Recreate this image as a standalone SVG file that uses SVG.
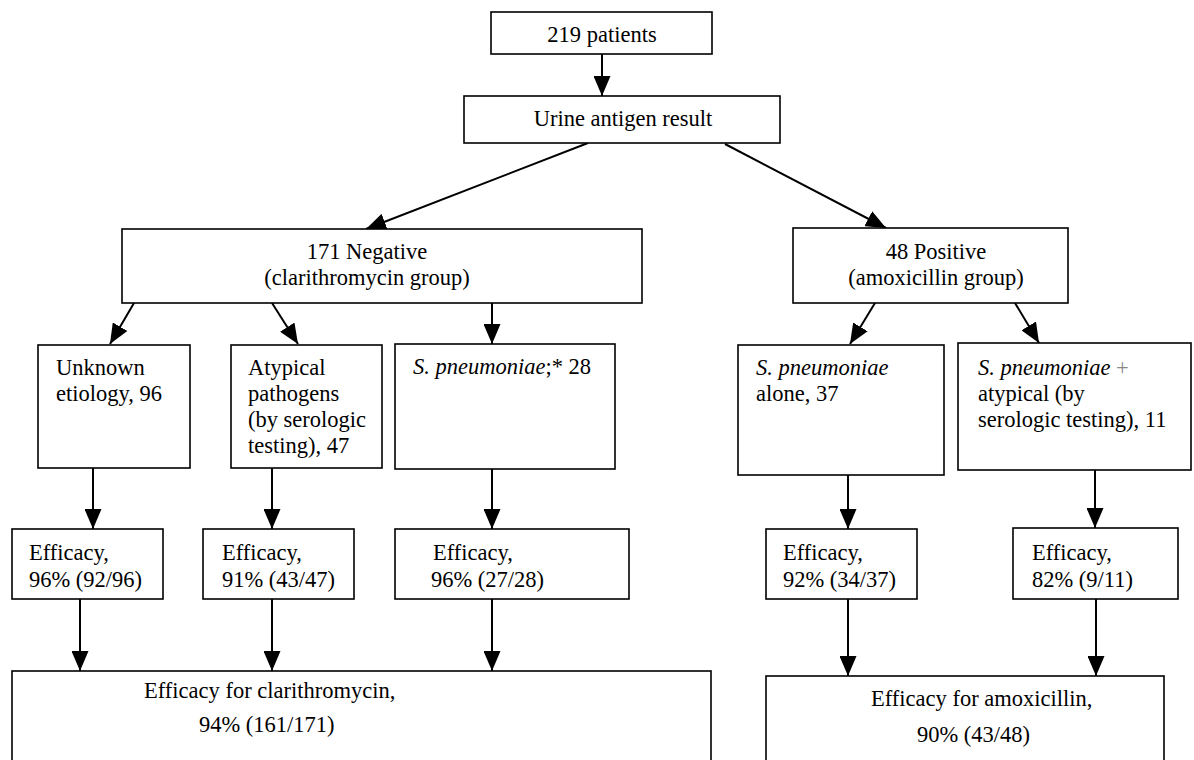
<svg xmlns="http://www.w3.org/2000/svg" width="1194" height="760" viewBox="0 0 1194 760">
<style>
.box{fill:#fff;stroke:#000;stroke-width:1.6}
.t{font-family:"Liberation Serif","Times New Roman",serif;font-size:22.5px;fill:#000}
.c{text-anchor:middle}
.i{font-style:italic}
.ln{stroke:#000;stroke-width:2;fill:none;marker-end:url(#ah)}
</style>
<defs>
<marker id="ah" viewBox="0 0 20 17" refX="20" refY="8.5" markerWidth="20" markerHeight="17" markerUnits="userSpaceOnUse" orient="auto">
<path d="M0,0 L20,8.5 L0,17 z" fill="#000"/>
</marker>
</defs>
<rect width="1194" height="760" fill="#fff"/>
<g id="connectors">
<line class="ln" x1="602" y1="54" x2="602" y2="96"/>
<line class="ln" x1="588" y1="143" x2="366" y2="229"/>
<line class="ln" x1="725" y1="144" x2="886" y2="228"/>
<line class="ln" x1="134" y1="303" x2="110" y2="344"/>
<line class="ln" x1="272" y1="303" x2="298" y2="344"/>
<line class="ln" x1="492" y1="303" x2="492" y2="344"/>
<line class="ln" x1="875" y1="303" x2="850" y2="344"/>
<line class="ln" x1="1015" y1="303" x2="1039" y2="343"/>
<line class="ln" x1="93" y1="468" x2="93" y2="529"/>
<line class="ln" x1="272" y1="468" x2="272" y2="529"/>
<line class="ln" x1="492" y1="469" x2="492" y2="529"/>
<line class="ln" x1="848" y1="475" x2="848" y2="529"/>
<line class="ln" x1="1095" y1="470" x2="1095" y2="528"/>
<line class="ln" x1="80" y1="599" x2="80" y2="671"/>
<line class="ln" x1="272" y1="599" x2="272" y2="671"/>
<line class="ln" x1="492" y1="599" x2="492" y2="671"/>
<line class="ln" x1="848" y1="599" x2="848" y2="676"/>
<line class="ln" x1="1096" y1="599" x2="1096" y2="676"/>
</g>
<g id="n219">
<rect class="box" x="491" y="12" width="221" height="42"/>
<text class="t c" x="602" y="42">219 patients</text>
</g>
<g id="urine">
<rect class="box" x="464" y="96" width="316" height="47"/>
<text class="t c" x="623" y="126">Urine antigen result</text>
</g>
<g id="negative">
<rect class="box" x="122" y="229" width="520" height="74"/>
<text class="t c" x="367" y="259">171 Negative</text>
<text class="t c" x="367" y="285">(clarithromycin group)</text>
</g>
<g id="positive">
<rect class="box" x="793" y="228" width="275" height="75"/>
<text class="t c" x="936" y="259">48 Positive</text>
<text class="t c" x="936" y="285">(amoxicillin group)</text>
</g>
<g id="unknown">
<rect class="box" x="38" y="345" width="152" height="123"/>
<text class="t" x="56" y="375">Unknown</text>
<text class="t" x="56" y="401">etiology, 96</text>
</g>
<g id="atypical">
<rect class="box" x="231" y="345" width="151" height="123"/>
<text class="t" x="248" y="375">Atypical</text>
<text class="t" x="248" y="401">pathogens</text>
<text class="t" x="248" y="427">(by serologic</text>
<text class="t" x="248" y="453">testing), 47</text>
</g>
<g id="spn28">
<rect class="box" x="395" y="344" width="220" height="125"/>
<text class="t" x="413" y="374"><tspan class="i">S. pneumoniae</tspan>;* 28</text>
</g>
<g id="spnalone">
<rect class="box" x="738" y="345" width="206" height="130"/>
<text class="t i" x="756" y="375">S. pneumoniae</text>
<text class="t" x="756" y="401">alone, 37</text>
</g>
<g id="spnplus">
<rect class="box" x="958" y="343" width="233" height="127"/>
<text class="t" x="978" y="375"><tspan class="i">S. pneumoniae</tspan> <tspan fill="#888">+</tspan></text>
<text class="t" x="978" y="401">atypical (by</text>
<text class="t" x="978" y="427">serologic testing), 11</text>
</g>
<g id="eff1">
<rect class="box" x="12" y="529" width="151" height="70"/>
<text class="t" x="29" y="560">Efficacy,</text>
<text class="t" x="29" y="587">96% (92/96)</text>
</g>
<g id="eff2">
<rect class="box" x="203" y="529" width="151" height="70"/>
<text class="t" x="222" y="560">Efficacy,</text>
<text class="t" x="222" y="587">91% (43/47)</text>
</g>
<g id="eff3">
<rect class="box" x="395" y="529" width="234" height="70"/>
<text class="t" x="433" y="560">Efficacy,</text>
<text class="t" x="431" y="587">96% (27/28)</text>
</g>
<g id="eff4">
<rect class="box" x="766" y="529" width="151" height="70"/>
<text class="t" x="783" y="560">Efficacy,</text>
<text class="t" x="783" y="587">92% (34/37)</text>
</g>
<g id="eff5">
<rect class="box" x="1013" y="528" width="165" height="71"/>
<text class="t" x="1032" y="560">Efficacy,</text>
<text class="t" x="1032" y="587">82% (9/11)</text>
</g>
<g id="totalClari">
<rect class="box" x="12" y="671" width="699" height="110"/>
<text class="t" x="144" y="698">Efficacy for clarithromycin,</text>
<text class="t" x="199" y="732">94% (161/171)</text>
</g>
<g id="totalAmox">
<rect class="box" x="766" y="676" width="398" height="110"/>
<text class="t" x="871" y="706">Efficacy for amoxicillin,</text>
<text class="t" x="917" y="742">90% (43/48)</text>
</g>
</svg>
